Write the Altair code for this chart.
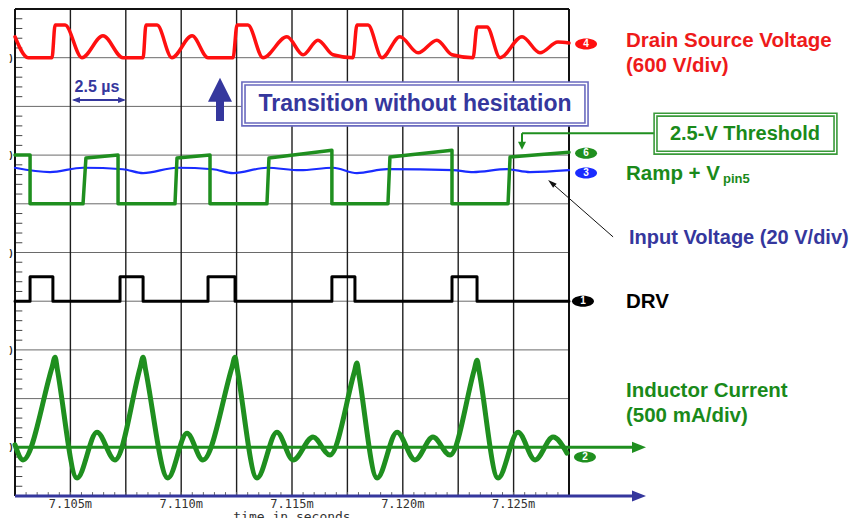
import altair as alt
import pandas as pd

# ---------------- axis frame (time in microseconds, vertical in divisions) ----
T0, T1 = 7102.5, 7127.5
V0, V1 = 0, 10
grid_t = [7105.0, 7107.5, 7110.0, 7112.5, 7115.0, 7117.5, 7120.0, 7122.5, 7125.0]
grid_v = [1, 2, 3, 4, 5, 6, 7, 8, 9]
tick_label_t = [7105.0, 7110.0, 7115.0, 7120.0, 7125.0]
tick_label_txt = ["7.105m", "7.110m", "7.115m", "7.120m", "7.125m"]
axis_title = "time in seconds"
left_label_v = [1, 3, 5, 7, 9]

# ---------------- traces ----------------
red_t = [7102.50, 7103.09, 7104.17, 7104.31, 7104.76, 7105.52, 7106.47, 7107.37, 7108.28, 7108.41,
         7108.91, 7109.58, 7110.49, 7111.21, 7112.34, 7112.52, 7113.01, 7113.69, 7114.77, 7115.50,
         7116.17, 7116.85, 7117.75, 7117.93, 7118.43, 7119.06, 7119.87, 7120.69, 7121.54, 7122.22,
         7123.17, 7123.35, 7123.80, 7124.39, 7125.38, 7126.19, 7127.00, 7127.50]
red_v = [9.43, 9.0, 9.0, 9.67, 9.67, 9.0, 9.45, 9.0, 9.0, 9.67,
         9.67, 9.0, 9.45, 9.0, 9.0, 9.67, 9.67, 9.0, 9.43, 9.06,
         9.36, 9.06, 9.0, 9.67, 9.67, 9.0, 9.43, 9.10, 9.36, 9.06,
         9.0, 9.63, 9.63, 9.0, 9.43, 9.10, 9.32, 9.30]

ramp_t = [7102.50, 7103.18, 7103.18, 7105.57, 7105.70, 7107.15, 7107.15, 7109.72, 7109.81, 7111.30,
          7111.30, 7113.87, 7113.96, 7116.80, 7116.80, 7119.33, 7119.42, 7122.22, 7122.22, 7124.75,
          7124.84, 7127.50]
ramp_v = [7.0, 7.0, 6.0, 6.0, 6.94, 7.0, 6.0, 6.0, 6.94, 7.0,
          6.0, 6.0, 6.94, 7.10, 6.0, 6.0, 6.96, 7.10, 6.0, 6.0,
          6.96, 7.06]

blue_t = [7102.50, 7104.08, 7105.57, 7107.37, 7108.28, 7109.81, 7111.43, 7112.34, 7113.87, 7115.36,
          7116.85, 7117.93, 7119.29, 7122.27, 7123.17, 7124.70, 7125.74, 7127.50]
blue_v = [6.74, 6.65, 6.74, 6.71, 6.63, 6.74, 6.71, 6.63, 6.74, 6.69,
          6.74, 6.63, 6.71, 6.69, 6.65, 6.71, 6.65, 6.69]

drv_low, drv_high = 4.0, 4.5
drv_rise = [7103.18, 7107.24, 7111.21, 7116.80, 7122.22]
drv_fall = [7104.21, 7108.28, 7112.43, 7117.84, 7123.35]

ind_t = [7102.50, 7102.86, 7104.17, 7104.31, 7104.41, 7105.30, 7106.20, 7107.01, 7108.15, 7108.28,
         7108.39, 7109.40, 7110.26, 7110.98, 7112.29, 7112.43, 7112.53, 7113.42, 7114.32, 7115.05,
         7115.95, 7116.71, 7117.81, 7117.93, 7118.02, 7118.84, 7119.74, 7120.55, 7121.36, 7122.13,
         7123.23, 7123.35, 7123.45, 7124.30, 7125.20, 7125.97, 7126.78, 7127.41]
ind_v = [1.05, 0.74, 2.64, 2.85, 2.60, 0.37, 1.31, 0.74, 2.64, 2.85,
         2.60, 0.37, 1.29, 0.74, 2.64, 2.85, 2.60, 0.37, 1.31, 0.74,
         1.21, 0.84, 2.54, 2.73, 2.49, 0.37, 1.31, 0.74, 1.21, 0.84,
         2.60, 2.79, 2.55, 0.37, 1.31, 0.74, 1.21, 0.88]
ind_base = 1.0

# ---------------- channel markers ----------------
mk_num = ["4", "6", "3", "1", "2"]
mk_t = [7128.27, 7128.27, 7128.27, 7128.13, 7128.22]
mk_v = [9.28, 7.04, 6.63, 4.0, 0.80]

RED = "#ff1010"
RED_TXT = "#ee1a1a"
GREEN = "#1f8f1f"
GREEN_TXT = "#1a8a1a"
BLUE = "#1a2cff"
NAVY = "#35379d"
BOX_BLUE = "#6a6abf"
mk_col = [RED, GREEN, BLUE, "#000000", GREEN]

# ---------------- labels ----------------
lab_txt = ["Drain Source Voltage", "(600 V/div)", "Ramp + V", "Input Voltage (20 V/div)",
           "DRV", "Inductor Current", "(500 mA/div)"]
lab_t = [7130.07, 7130.07, 7130.07, 7130.21, 7130.07, 7130.07, 7130.07]
lab_v = [9.34, 8.83, 6.61, 5.30, 3.98, 2.16, 1.64]
lab_col = [RED_TXT, RED_TXT, GREEN_TXT, NAVY, "#000000", GREEN_TXT, GREEN_TXT]
lab_size = [20.5, 20.5, 20.5, 20, 20.5, 20.5, 20.5]

xs = alt.Scale(domain=[T0, T1], nice=False, zero=False)
ys = alt.Scale(domain=[V0, V1], nice=False, zero=False)
X = alt.X("t:Q", scale=xs, axis=None)
Y = alt.Y("v:Q", scale=ys, axis=None)
X2 = alt.X2("t2:Q")
Y2 = alt.Y2("v2:Q")
FONT = "Liberation Sans"


def line_layer(ts, vs, color, width, interp):
    df = pd.DataFrame({"t": ts, "v": vs, "i": list(range(len(ts)))})
    return alt.Chart(df).mark_line(color=color, strokeWidth=width, interpolate=interp,
                                   strokeJoin="round", strokeCap="round").encode(x=X, y=Y, order="i:Q")


def seg_layer(rows, color, width):
    df = pd.DataFrame(rows, columns=["t", "t2", "v", "v2"])
    return alt.Chart(df).mark_rule(color=color, strokeWidth=width).encode(x=X, x2=X2, y=Y, y2=Y2)


def pt_layer(t, v, shape, size, color, angle=0):
    df = pd.DataFrame({"t": [t], "v": [v]})
    return alt.Chart(df).mark_point(shape=shape, size=size, filled=True, color=color, opacity=1,
                                    angle=angle, strokeWidth=0).encode(x=X, y=Y)


def box_layer(t, t2, v, v2, color, width, fill=True):
    df = pd.DataFrame({"t": [t], "t2": [t2], "v": [v], "v2": [v2]})
    return alt.Chart(df).mark_rect(fill="white", fillOpacity=1 if fill else 0, stroke=color,
                                   strokeWidth=width).encode(x=X, x2=X2, y=Y, y2=Y2)


def text_layer(rows, color, size, align="left", weight="bold", font=FONT):
    df = pd.DataFrame(rows, columns=["t", "v", "label"])
    return alt.Chart(df).mark_text(color=color, fontSize=size, align=align, baseline="middle",
                                   fontWeight=weight, font=font).encode(x=X, y=Y, text="label:N")


layers = []

# grid
layers.append(seg_layer([(T0, T1, g, g) for g in grid_v], "#6a6a6a", 1))
layers.append(seg_layer([(g, g, V0, V1) for g in grid_t], "#1e1e1e", 1.4))
# left minor ticks
minor_v = [k / 5 for k in range(1, 50) if k % 5]
layers.append(seg_layer([(T0, T0 + 0.33, m, m) for m in minor_v], "#444444", 1))
# bottom minor ticks
minor_t = [T0 + k * 0.5 for k in range(1, 50)]
layers.append(seg_layer([(m, m, 0, 0.08) for m in minor_t], "#666666", 1))
# frame
layers.append(seg_layer([(T0, T0, V0, V1), (T1, T1, V0, V1), (T0, T1, V1, V1)], "#111111", 2))

# DRV table
drv_t, drv_v = [T0], [drv_low]
for r, f in zip(drv_rise, drv_fall):
    drv_t += [r, r, f, f]
    drv_v += [drv_low, drv_high, drv_high, drv_low]
drv_t.append(T1)
drv_v.append(drv_low)

# inductor baseline + arrow, bottom time axis + arrow
layers.append(seg_layer([(T0, 7130.5, ind_base, ind_base)], GREEN, 3))
layers.append(pt_layer(7130.66, ind_base, "M1,0L-1,-0.8L-1,0.8Z", 196, GREEN))
layers.append(seg_layer([(T0, 7130.5, 0, 0)], NAVY, 3))
layers.append(pt_layer(7130.66, 0, "M1,0L-1,-0.8L-1,0.8Z", 196, NAVY))

# traces
layers.append(line_layer(blue_t, blue_v, BLUE, 2.2, "monotone"))
layers.append(line_layer(ramp_t, ramp_v, GREEN, 3.5, "linear"))
layers.append(line_layer(red_t, red_v, RED, 3.5, "monotone"))
layers.append(line_layer(drv_t, drv_v, "#000000", 3, "linear"))
layers.append(line_layer(ind_t, ind_v, GREEN, 5, "monotone"))

# channel markers
mdf = pd.DataFrame({"t": mk_t, "v": mk_v, "n": mk_num, "c": mk_col})
layers.append(alt.Chart(mdf).mark_point(shape="M-1,0A1,0.5,0,1,1,1,0A1,0.5,0,1,1,-1,0Z", size=484,
                                        filled=True, opacity=1, strokeWidth=0).encode(
    x=X, y=Y, color=alt.Color("c:N", scale=None)))
layers.append(alt.Chart(mdf).mark_text(color="white", fontSize=10, font=FONT, fontWeight="bold",
                                       baseline="middle", align="center").encode(x=X, y=Y, text="n:N"))

# 2.5 us marker
layers.append(seg_layer([(7105.15, 7107.40, 8.13, 8.13)], NAVY, 2))
layers.append(pt_layer(7105.25, 8.13, "M-1,0L1,-0.75L1,0.75Z", 64, NAVY))
layers.append(pt_layer(7107.33, 8.13, "M1,0L-1,-0.75L-1,0.75Z", 64, NAVY))
layers.append(text_layer([(7106.20, 8.40, "2.5 µs")], NAVY, 16, align="center"))

# big up arrow
layers.append(seg_layer([(7111.75, 7111.75, 7.70, 8.15)], NAVY, 8))
layers.append(pt_layer(7111.75, 8.34, "M0,-1L1,1L-1,1Z", 576, NAVY))

# transition box
layers.append(box_layer(7112.74, 7128.36, 8.50, 7.60, BOX_BLUE, 1.6))
layers.append(box_layer(7112.88, 7128.22, 8.44, 7.66, BOX_BLUE, 1.6, fill=False))
layers.append(text_layer([(7120.55, 8.05, "Transition without hesitation")], NAVY, 23, align="center"))

# threshold callout
layers.append(seg_layer([(7125.38, 7131.34, 7.45, 7.45), (7125.38, 7125.38, 7.45, 7.22)], GREEN, 2))
layers.append(pt_layer(7125.38, 7.19, "M0,1L1,-1L-1,-1Z", 64, GREEN))
layers.append(box_layer(7131.34, 7139.59, 7.86, 7.02, "#3a9a3a", 1.6))
layers.append(box_layer(7131.47, 7139.46, 7.80, 7.08, "#3a9a3a", 1.6, fill=False))
layers.append(text_layer([(7135.44, 7.43, "2.5-V Threshold")], GREEN_TXT, 20, align="center"))

# input voltage pointer
layers.append(seg_layer([(7129.49, 7126.71, 5.32, 6.43)], "#111111", 1))
layers.append(pt_layer(7126.71, 6.43, "M0,-1L0.6,1L-0.6,1Z", 81, "#111111", angle=311))

# right-side labels
ldf = pd.DataFrame({"t": lab_t, "v": lab_v, "label": lab_txt, "c": lab_col, "s": lab_size})
layers.append(alt.Chart(ldf).mark_text(align="left", baseline="middle", fontWeight="bold",
                                       font=FONT).encode(x=X, y=Y, text="label:N",
                                                         color=alt.Color("c:N", scale=None),
                                                         size=alt.Size("s:Q", scale=None)))
layers.append(text_layer([(7134.45, 6.51, "pin5")], GREEN_TXT, 13))

# tick labels and (cut-off) axis title
layers.append(text_layer([(t, -0.16, s) for t, s in zip(tick_label_t, tick_label_txt)], "#333333", 12,
                         align="center", weight="normal", font="DejaVu Sans Mono"))
layers.append(text_layer([(7115.0, -0.44, axis_title)], "#333333", 13,
                         align="center", weight="normal", font="DejaVu Sans Mono"))
layers.append(text_layer([(7102.32, v, ")") for v in left_label_v], "#222222", 9, align="center"))

chart = alt.layer(*layers).properties(
    width=554, height=487,
    autosize=alt.AutoSizeParams(type="none"),
    padding={"left": 7, "top": 1, "right": 287, "bottom": 22},
    background="white",
).configure_view(stroke=None)

chart.save("out.html", embed_options={"renderer": "svg", "actions": False})
